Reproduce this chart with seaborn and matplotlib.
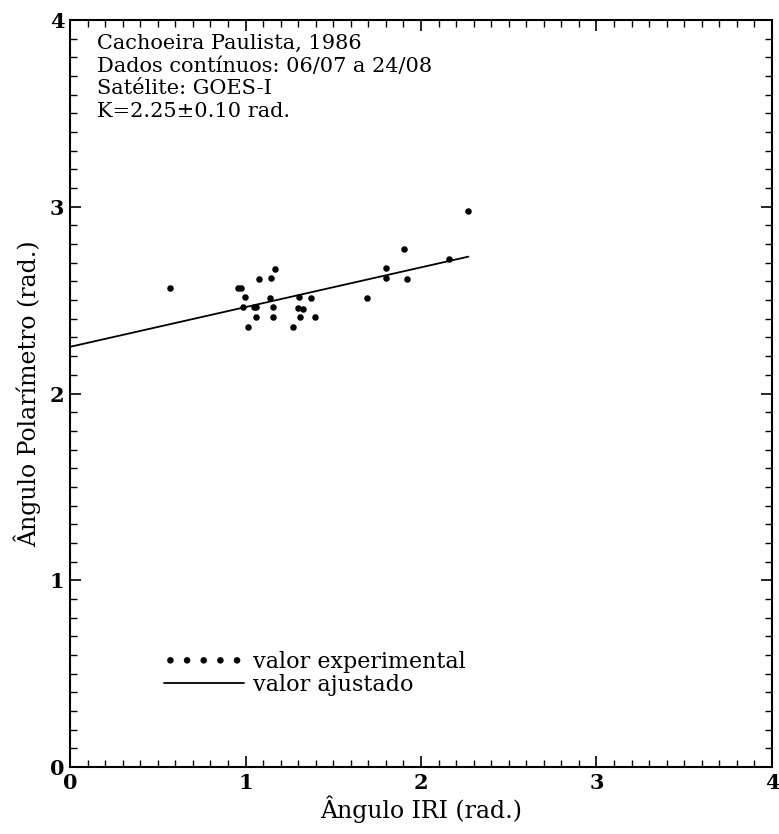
import matplotlib
matplotlib.use("Agg")
import matplotlib.pyplot as plt
import seaborn as sns
import pandas as pd
from matplotlib.ticker import MultipleLocator

# Data
iri_angle = [0.571, 0.959, 0.974, 0.999, 0.983, 1.050, 1.060, 1.060, 1.014, 1.078,
             1.147, 1.168, 1.140, 1.158, 1.158, 1.272, 1.305, 1.299, 1.330, 1.312,
             1.373, 1.398, 1.693, 1.801, 1.801, 1.904, 1.921, 2.159, 2.270]
pol_angle = [2.563, 2.563, 2.563, 2.515, 2.462, 2.462, 2.462, 2.408, 2.354, 2.614,
             2.617, 2.668, 2.513, 2.462, 2.411, 2.354, 2.515, 2.458, 2.454, 2.410,
             2.513, 2.410, 2.513, 2.670, 2.617, 2.772, 2.613, 2.720, 2.976]
fit_x = [0.0, 2.27]
fit_y = [2.25, 2.733]

info_lines = ["Cachoeira Paulista, 1986",
              "Dados contínuos: 06/07 a 24/08",
              "Satélite: GOES-I",
              "K=2.25±0.10 rad."]

sns.set_style("ticks")
plt.rcParams['font.family'] = ['DejaVu Serif', 'DejaVu Sans']
plt.rcParams['text.color'] = 'black'
plt.rcParams['axes.labelcolor'] = 'black'
plt.rcParams['xtick.color'] = 'black'
plt.rcParams['ytick.color'] = 'black'

fig = plt.figure(figsize=(7.79, 8.34), dpi=100)
ax = fig.add_axes([0.0899, 0.0803, 0.9011, 0.8957])

pts = pd.DataFrame({"x": iri_angle, "y": pol_angle})
fit = pd.DataFrame({"x": fit_x, "y": fit_y})

sns.scatterplot(data=pts, x="x", y="y", ax=ax, color="black", s=22,
                edgecolor="black", linewidth=0, label="valor experimental")
sns.lineplot(data=fit, x="x", y="y", ax=ax, color="black", linewidth=1.3,
             label="valor ajustado")

ax.set_xlim(0, 4)
ax.set_ylim(0, 4)
ax.xaxis.set_major_locator(MultipleLocator(1))
ax.xaxis.set_minor_locator(MultipleLocator(0.1))
ax.yaxis.set_major_locator(MultipleLocator(1))
ax.yaxis.set_minor_locator(MultipleLocator(0.1))
ax.tick_params(which="both", direction="in", top=True, right=True, color="black",
               labelcolor="black")
ax.tick_params(which="major", length=8, width=1.2, labelsize=15, pad=4)
ax.tick_params(which="minor", length=5, width=1.0)
for sp in ax.spines.values():
    sp.set_linewidth(1.5)
    sp.set_color("black")
for lbl in ax.get_xticklabels() + ax.get_yticklabels():
    lbl.set_fontweight("bold")

ax.set_xlabel("Ângulo IRI (rad.)", fontsize=17, labelpad=2, color="black")
ax.set_ylabel("Ângulo Polarímetro (rad.)", fontsize=17, labelpad=6, color="black")

ax.text(0.038, 0.981, "\n".join(info_lines), transform=ax.transAxes,
        fontsize=15, va="top", ha="left", linespacing=1.23, color="black")

leg = ax.legend(loc="lower left", bbox_to_anchor=(0.105, 0.068), frameon=False,
                scatterpoints=5, handlelength=3.6, fontsize=16, labelspacing=0.05,
                handletextpad=0.4, scatteryoffsets=[0.5])
for t in leg.get_texts():
    t.set_color("black")

fig.savefig("out.png", dpi=100)
